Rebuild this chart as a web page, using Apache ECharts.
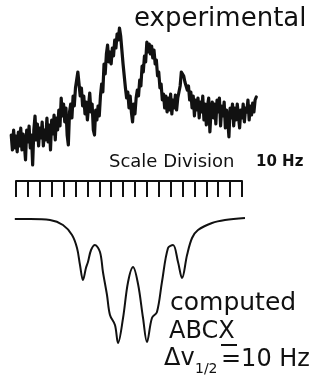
<!DOCTYPE html>
<html>
<head>
<meta charset="utf-8">
<script src="https://cdn.jsdelivr.net/npm/echarts@6/dist/echarts.min.js"></script>
<style>
html,body{margin:0;padding:0;background:#fff;}
#c{width:324px;height:375px;}
</style>
</head>
<body>
<div id="c"></div>
<script>
// Experimental spectrum: frequency (Hz, relative) and recorded level (arb. units)
var expHz = [
 -4,-3,-2,-1,0,1,2,3,4,5,
 6,7,8,9,10,11,12,13,14,15,
 16,17,18,19,20,21,22,23,24,25,
 26,27,28,29,30,31,32,33,34,35,
 36,37,38,39,40,41,42,43,44,45,
 46,47,48,49,50,51,52,53,54,55,
 56,57,58,59,60,61,62,63,64,65,
 66,67,68,69,70,71,72,73,74,75,
 76,77,78,79,80,81,82,83,84,85,
 86,87,88,89,90,91,92,93,94,95,
 96,97,98,99,100,101,102,103,104,105,
 106,107,108,109,110,111,112,113,114,115,
 116,117,118,119,120,121,122,123,124,125,
 126,127,128,129,130,131,132,133,134,135,
 136,137,138,139,140,141,142,143,144,145,
 146,147,148,149,150,151,152,153,154,155,
 156,157,158,159,160,161,162,163,164,165,
 166,167,168,169,170,171,172,173,174,175,
 176,177,178,179,180,181,182,183,184,185,
 186,187,188,189,190,191,192,193,194,195,
 196,197,198,199,200,201,202
];
var expLevel = [
 35,20,40,22,34,18,38,24,42,20,
 36,26,10,40,28,44,22,35,5,40,
 54,30,46,24,42,32,48,24,40,30,
 52,28,45,20,50,36,55,30,52,40,
 60,44,72,54,66,48,62,35,25,58,
 66,52,74,64,82,90,98,86,74,82,
 64,74,56,68,50,64,77,58,66,40,
 35,60,50,64,54,74,86,78,106,96,
 116,125,108,118,106,122,114,130,122,136,
 130,142,134,120,106,94,82,72,78,62,
 74,58,48,66,56,72,80,74,90,84,
 104,98,114,108,128,118,126,116,124,112,
 120,106,110,94,98,82,86,70,76,62,
 74,58,72,60,76,56,70,62,75,60,
 72,70,84,98,100,94,88,90,80,84,
 70,78,62,74,54,70,60,72,52,68,
 58,74,50,66,45,64,72,38,60,68,
 52,66,46,70,58,72,44,64,54,68,
 42,60,50,33,62,52,66,44,62,50,
 66,54,42,60,52,66,48,62,58,70,
 50,64,55,67,58,70,73
];

// Computed ABCX spectrum (drawn downward): frequency (Hz) and depth (arb. units)
var compHz = [-1, 12, 28.6, 39.5, 47.1, 51.3, 53.8, 56.3, 58.8, 60.5, 63.1, 66.4, 70.6, 73.1, 76.5, 79.0,
  83.2, 85.8, 90.0, 94.2, 98.4, 102.6, 106.8, 110.1, 114.3, 118.5, 122.7, 127.8, 132.0, 136.2, 139.6,
  143.8, 148.0, 153.0, 164.8, 175.7, 192.5];
var compDepth = [1, 1, 2, 7, 17, 30, 47, 62, 50, 44, 32, 27, 34, 54, 77, 97,
  107, 125, 100, 64, 49, 66, 100, 124, 100, 94, 64, 30, 27, 44, 60,
  37, 20, 12, 5, 2, 0];

// Scale bar: divisions of 10 Hz over 190 Hz
var scaleDivisionHz = 10;
var scaleSpanHz = 190;

// Text labels
var labelExperimental = 'experimental';
var labelScale = 'Scale Division';
var labelScaleUnit = '10 Hz';
var labelComputed = 'computed';
var labelSystem = 'ABCX';
var labelDelta = 'Δv';
var labelSub = '1/2';
var labelWidth = '=10 Hz';

function pairs(xs, ys) {
  var out = [];
  for (var i = 0; i < xs.length && i < ys.length; i++) out.push([xs[i], ys[i]]);
  return out;
}

var FONT = 'DejaVu Sans';
var INK = '#111';

var chart = echarts.init(document.getElementById('c'), null, {renderer: 'canvas'});
chart.setOption({
  animation: false,
  backgroundColor: '#fff',
  grid: [
    {left: 4.1, width: 261.7, top: 20, height: 150},
    {left: 16, width: 226, top: 181, height: 16},
    {left: 4.1, width: 261.7, top: 210, height: 140}
  ],
  xAxis: [
    {gridIndex: 0, type: 'value', min: -10, max: 210, show: false},
    {gridIndex: 1, type: 'value', min: 0, max: scaleSpanHz, interval: scaleDivisionHz, position: 'top',
     axisLine: {show: true, onZero: false, lineStyle: {color: INK, width: 2}},
     axisTick: {show: true, inside: true, length: 16, lineStyle: {color: INK, width: 2}},
     axisLabel: {show: false}, splitLine: {show: false}},
    {gridIndex: 2, type: 'value', min: -10, max: 210, show: false}
  ],
  yAxis: [
    {gridIndex: 0, type: 'value', min: 0, max: 150, show: false},
    {gridIndex: 1, type: 'value', min: 0, max: 1, show: false},
    {gridIndex: 2, type: 'value', min: -8, max: 132, inverse: true, show: false}
  ],
  series: [
    {type: 'line', xAxisIndex: 0, yAxisIndex: 0, data: pairs(expHz, expLevel),
     showSymbol: false, symbol: 'none', clip: false,
     lineStyle: {color: INK, width: 3.2, join: 'round', cap: 'round'}},
    {type: 'line', xAxisIndex: 2, yAxisIndex: 2, data: pairs(compHz, compDepth),
     showSymbol: false, symbol: 'none', smooth: 0.35, clip: false,
     lineStyle: {color: INK, width: 2}}
  ],
  graphic: [
    {type: 'text', left: 134, top: 6, style: {text: labelExperimental, font: '26px "' + FONT + '"', fill: INK}},
    {type: 'text', left: 109, top: 153, style: {text: labelScale, font: '18px "' + FONT + '"', fill: INK}},
    {type: 'text', left: 256, top: 155, style: {text: labelScaleUnit, font: 'bold 15px "' + FONT + '"', fill: INK}},
    {type: 'text', left: 170, top: 291, style: {text: labelComputed, font: '25px "' + FONT + '"', fill: INK}},
    {type: 'text', left: 169, top: 320, style: {text: labelSystem, font: '24px "' + FONT + '"', fill: INK}},
    {type: 'line', shape: {x1: 221, y1: 345, x2: 237, y2: 345}, style: {stroke: INK, lineWidth: 2}},
    {type: 'text', left: 164, top: 347, style: {text: labelDelta, font: '24px "' + FONT + '"', fill: INK}},
    {type: 'text', left: 195, top: 362, style: {text: labelSub, font: '14px "' + FONT + '"', fill: INK}},
    {type: 'text', left: 221, top: 348, style: {text: labelWidth, font: '24px "' + FONT + '"', fill: INK}}
  ]
});
</script>
</body>
</html>
